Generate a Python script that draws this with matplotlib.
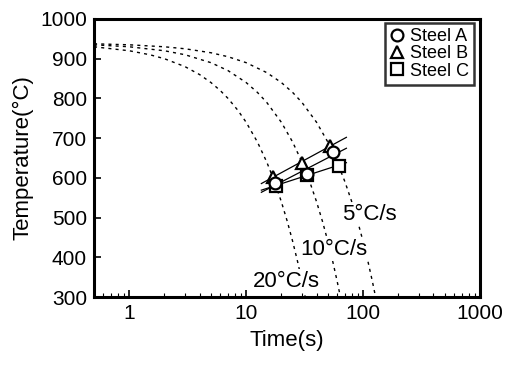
import numpy as np
import matplotlib
matplotlib.use("Agg")
import matplotlib.pyplot as plt

plt.rcParams['font.family'] = ['Liberation Sans', 'Noto Sans CJK JP', 'DejaVu Sans']

# cooling curves (time s, temperature C)
t_5  = [0.5, 1, 2, 3, 5, 7, 10, 15, 20, 25, 30, 40, 50, 60, 70, 80, 90, 100, 110, 120, 128]
T_5  = [937.5, 935, 930, 925, 915, 905, 890, 865, 840, 815, 790, 740, 690, 640, 590, 540,
        490, 440, 390, 340, 300]
t_10 = [0.5, 1, 2, 3, 5, 7, 10, 12.5, 15, 20, 25, 30, 35, 40, 45, 50, 55, 60, 64]
T_10 = [935, 930, 920, 910, 890, 870, 840, 815, 790, 740, 690, 640, 590, 540, 490, 440,
        390, 340, 300]
t_20 = [0.5, 1, 1.5, 2, 3, 4, 5, 6, 7, 8.5, 10, 12.5, 15, 17.5, 20, 22.5, 25, 27.5, 30, 32]
T_20 = [930, 920, 910, 900, 880, 860, 840, 820, 800, 770, 740, 690, 640, 590, 540, 490,
        440, 390, 340, 300]

# transformation start points (5, 10, 20 C/s)
tA = [55.2, 33.0, 17.6]; TA = [664, 610, 587]   # Steel A
tB = [51.8, 30.2, 16.9]; TB = [681, 638, 603]   # Steel B
tC = [61.8, 33.2, 18.0]; TC = [631, 608, 580]   # Steel C

fig = plt.figure(figsize=(5.12, 3.65), dpi=100)
ax = fig.add_axes([0.1836, 0.1863, 0.7539, 0.7617])

dash = dict(color="black", lw=1.0, ls=(0, (2.2, 3.0)))
for t, T in [(t_5, T_5), (t_10, T_10), (t_20, T_20)]:
    ax.plot(t, T, **dash)

# fitted lines through each steel's points
tt = np.array([13.5, 72.0])
for ts, Ts in [(tA, TA), (tB, TB), (tC, TC)]:
    k, b = np.polyfit(np.log10(ts), Ts, 1)
    ax.plot(tt, k * np.log10(tt) + b, color="black", lw=0.9)

mk = dict(ls="none", mfc="white", mec="black", mew=1.6, ms=8.5)
ax.plot(tC, TC, marker="s", label="Steel C", zorder=5, **mk)
ax.plot(tA, TA, marker="o", label="Steel A", zorder=6, **mk)
ax.plot(tB, TB, marker="^", label="Steel B", zorder=4, **mk)

box = dict(facecolor="white", edgecolor="none", pad=1)
ax.text(66.5, 508, "5°C/s", fontsize=16, va="center", bbox=box, zorder=7)
ax.text(29.2, 420, "10°C/s", fontsize=16, va="center", bbox=box, zorder=7)
ax.text(11.5, 340, "20°C/s", fontsize=16, va="center", bbox=box, zorder=7)

ax.set_xscale("log")
ax.set_xlim(0.5, 1000)
ax.set_ylim(300, 1000)
ax.set_yticks(np.arange(300, 1001, 100))
ax.set_xticks([1, 10, 100, 1000])
ax.set_xticklabels(["1", "10", "100", "1000"])
ax.tick_params(which="major", direction="in", length=5, width=1.2, labelsize=15, pad=5)
ax.tick_params(which="minor", direction="in", length=3, width=0.8)
ax.tick_params(axis="y", which="minor", left=False)
for s in ax.spines.values():
    s.set_linewidth(2.2)

ax.set_xlabel("Time(s)", fontsize=16, labelpad=5)
ax.set_ylabel("Temperature(°C)", fontsize=16, labelpad=5)

h, l = ax.get_legend_handles_labels()
order = [1, 2, 0]
leg = ax.legend([h[i] for i in order], [l[i] for i in order], loc="upper right",
                bbox_to_anchor=(0.995, 1.0), fontsize=13, frameon=True, fancybox=False,
                edgecolor="black", handlelength=0.8, handletextpad=0.3,
                borderpad=0.3, labelspacing=0.02, borderaxespad=0.2)
leg.get_frame().set_linewidth(1.8)
leg.set_zorder(10)

fig.savefig("out.png", dpi=100)
